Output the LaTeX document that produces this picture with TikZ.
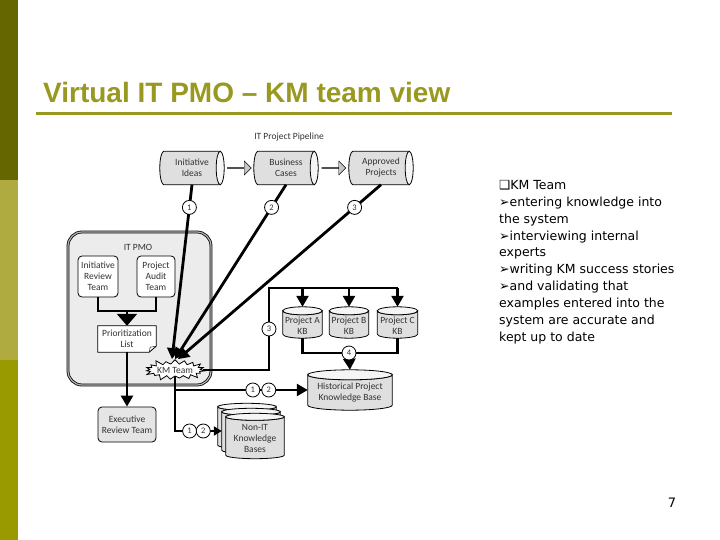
\documentclass[tikz,border=0pt]{standalone}
\usepackage{fontspec}
\setmainfont{Liberation Sans}
\newfontfamily\dgfont{Carlito}
\newfontfamily\notefont{DejaVu Sans}
\usetikzlibrary{arrows.meta,calc,positioning,shapes.symbols,shapes.arrows}
\pgfdeclarelayer{bg}\pgfsetlayers{bg,main}
\definecolor{olivedark}{HTML}{666600}
\definecolor{olivemid}{HTML}{B0AB40}
\definecolor{olivelow}{HTML}{999900}
\definecolor{titleol}{HTML}{999922}
\tikzset{>=Stealth,every node/.style={font=\dgfont\fontsize{9.5}{11}\selectfont,text=black!80},
ln/.style={line width=2.4pt},arr/.style={-{Triangle[width=12pt,length=11pt]}},
body/.style={draw,thick,fill=gray!25},lid/.style={draw,thick,fill=gray!8},
pipe/.style={align=center,inner sep=1pt,minimum width=64pt,minimum height=33pt},
kb/.style={inner sep=0pt},kbtext/.style={align=center,yshift=-3pt},
fat/.style={single arrow,draw,fill=gray!45,minimum height=24pt,minimum width=14pt,single arrow head extend=3pt,inner sep=0pt},
team/.style={draw,thick,rounded corners=4pt,fill=white,align=center,inner sep=1pt,minimum width=40pt,minimum height=41pt},
burst/.style={starburst,starburst points=19,starburst point height=6pt,draw,thick,fill=white,minimum width=62pt,minimum height=24pt,inner sep=0pt},
num/.style={circle,draw,line width=.8pt,fill=white,inner sep=0pt,minimum size=14pt,font=\dgfont\fontsize{8.5}{9}\selectfont}}
% cylinder standing up (#1 = half height of the lid)
\newcommand\drumshape[2][4pt]{\begin{pgfonlayer}{bg}
\path[body] let \p1=(#2.north west),\p2=(#2.south east),\n1={(\x2-\x1)/2} in (\x1,\y1-#1) -- (\x1,\y2+#1) arc[start angle=180,end angle=360,x radius=\n1,y radius=#1] -- (\x2,\y1-#1) arc[start angle=0,end angle=-180,x radius=\n1,y radius=#1] -- cycle;
\path[lid] let \p1=(#2.north west),\p2=(#2.south east),\n1={(\x2-\x1)/2} in (\x1+\n1,\y1-#1) ellipse[x radius=\n1,y radius=#1];\end{pgfonlayer}}
% cylinder lying down, lid on the right
\newcommand\pipeshape[2][4pt]{\begin{pgfonlayer}{bg}
\path[body] let \p1=(#2.north west),\p2=(#2.south east),\n1={(\y1-\y2)/2} in (\x1+#1,\y1) -- (\x2-#1,\y1) -- (\x2-#1,\y2) -- (\x1+#1,\y2) arc[start angle=270,end angle=90,x radius=#1,y radius=\n1] -- cycle;
\path[lid] let \p1=(#2.north west),\p2=(#2.south east),\n1={(\y1-\y2)/2} in (\x2-#1,\y2+\n1) ellipse[x radius=#1,y radius=\n1];\end{pgfonlayer}}
\begin{document}
\begin{tikzpicture}[x=1pt,y=-1pt]
\useasboundingbox (0,0) rectangle (720,540);
% slide frame
\fill[olivedark] (0,0) rectangle (18,180);\fill[olivemid] (0,180) rectangle (18,360);\fill[olivelow] (0,360) rectangle (18,540);
\node[anchor=base west,inner sep=0,text=titleol,font=\bfseries\fontsize{28}{30}\selectfont] (title) at (43,103) {Virtual IT PMO – KM team view};
\draw[titleol,line width=3pt] (36,114) -- (672,114);
% pipeline
\node (pipelbl) at (289,137) {IT Project Pipeline};
\node[pipe] (ideas) at (192,168) {Initiative\\Ideas};\node[pipe] (cases) at (286,168) {Business\\Cases};\node[pipe] (approved) at (381,168) {Approved\\Projects};
\foreach \q in {ideas,cases,approved}{\pipeshape{\q}}
\node[fat] (f1) at ($(ideas.east)!.5!(cases.west)$) {};\node[fat] (f2) at ($(cases.east)!.5!(approved.west)$) {};
% IT PMO
\begin{pgfonlayer}{bg}
\node[draw=black,line width=.8pt,double=gray!55,double distance=1.2pt,rounded corners=14pt,fill=gray!15,minimum width=143pt,minimum height=153pt] (pmo) at (139.5,308.5) {};
\end{pgfonlayer}
\node (pmolbl) at (138,247) {IT PMO};
\node[team] (irt) at (98,276.5) {Initiative\\Review\\Team};\node[team,minimum width=38pt] (pat) at (156,276.5) {Project\\Audit\\Team};
\node[align=center,inner sep=1pt,minimum width=58pt,minimum height=26pt] (prio) at (127,339) {Prioritization\\List};
\begin{pgfonlayer}{bg}
\draw[thick,fill=white] (prio.north west) -- (prio.north east) -- ($(prio.south east)+(0,-6)$) -- ($(prio.south east)+(-7,0)$) -- (prio.south west) -- cycle;
\draw ($(prio.south east)+(0,-6)$) -- ($(prio.south east)+(-6,-5)$) -- ($(prio.south east)+(-7,0)$);
\end{pgfonlayer}
\node[team,fill=gray!20,minimum width=58pt,minimum height=35pt] (exec) at (127,424.5) {Executive\\Review Team};
\node[burst] (km) at (175,370) {KM Team};
% knowledge bases
\node[kb,minimum width=39pt,minimum height=31pt,label={[kbtext]center:Project A\\KB}] (kbA) at (302.5,322.5) {};
\node[kb,minimum width=39pt,minimum height=31pt,label={[kbtext]center:Project B\\KB}] (kbB) at (349,322.5) {};
\node[kb,minimum width=40pt,minimum height=31pt,label={[kbtext]center:Project C\\KB}] (kbC) at (397.5,322.5) {};
\node[kb,minimum width=84pt,minimum height=40pt,label={[kbtext]center:Historical Project\\Knowledge Base}] (hist) at (350,390) {};
\node[kb,minimum width=58pt,minimum height=45pt] (nonitC) at (247,426) {};\node[kb,minimum width=58pt,minimum height=45pt] (nonitB) at (251,431) {};
\node[kb,minimum width=58pt,minimum height=45pt,label={[kbtext,yshift=1pt]center:Non-IT\\Knowledge\\Bases}] (nonit) at (255,436) {};
\foreach \k in {kbA,kbB,kbC}{\drumshape{\k}}
\drumshape[5pt]{hist}\foreach \k in {nonitC,nonitB,nonit}{\drumshape[3.5pt]{\k}}
% connectors
\coordinate (merge) at (127,311);
\draw[ln] (irt.south) |- (merge) -| (pat.south);\draw[ln,-{Triangle[width=20pt,length=12pt]}] (merge) -- (prio.north);
\draw[ln,arr] (prio.south) -- (exec.north);
\foreach \s/\dx/\n in {ideas/-3/1,cases/0/2,approved/3/3}{\draw[line width=2.8pt,arr] (\s.south) -- ([xshift=\dx pt]km.north) node[num,pos=.13] (c\n) {\n};}
\coordinate (bus) at (269,288);\coordinate (join) at (349,353);
\draw[ln] (km.east) -| (bus) node[num,pos=.75] (c3b) {3} -- (bus -| kbC.north);
\foreach \k in {kbA,kbB,kbC}{\draw[ln,arr] (bus -| \k.north) -- (\k.north);}
\draw[ln] (kbA.south) |- (join) -| (kbC.south);\draw[ln,arr] (join) -- (hist.north);\node[num] (c4) at (join) {4};
\draw[ln,arr] (km.south) |- (hist.west) node[num,pos=.793] (c1h) {1} node[num,pos=.853] (c2h) {2};
\draw[ln,-{Triangle[width=9pt,length=8pt]}] (km.south) |- (nonitB.west) node[num,pos=.656] (c1n) {1} node[num,pos=.802] (c2n) {2};
% notes
\node[anchor=north west,align=left,inner sep=0,text=black,font=\notefont\fontsize{12.5}{16.9}\selectfont] (notes) at (499,180) {❑KM Team\\➢entering knowledge into\\the system\\➢interviewing internal\\experts\\➢writing KM success stories\\➢and validating that\\examples entered into the\\system are accurate and\\kept up to date};
\node[text=black,font=\notefont\fontsize{13}{15}\selectfont] (pg) at (672,503) {7};
\end{tikzpicture}
\end{document}
